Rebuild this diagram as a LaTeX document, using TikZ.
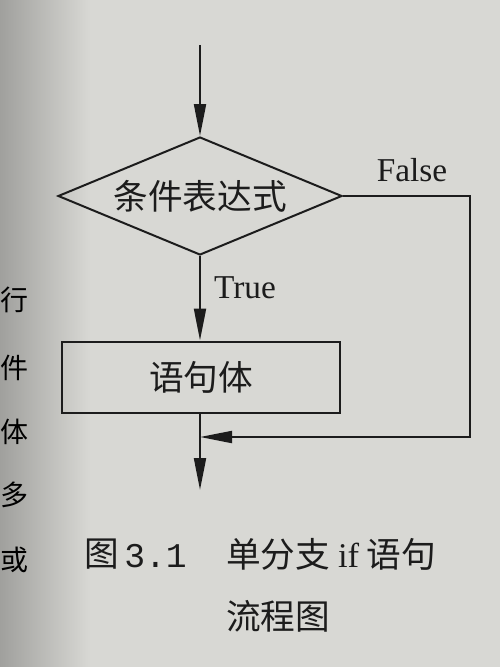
\documentclass[tikz,border=0pt]{standalone}
\usepackage{fontspec}
\setmainfont{Liberation Serif}
\newfontfamily\cjk{Noto Sans CJK SC}
\newfontfamily\monofam{Liberation Mono}
\usetikzlibrary{shapes.geometric,arrows.meta}
\definecolor{paper}{RGB}{216,216,212}
\definecolor{shadowc}{RGB}{160,160,157}
\definecolor{ink}{RGB}{28,28,28}
\begin{document}
\begin{tikzpicture}[x=0.75pt,y=-0.75pt,
  line/.style={draw=ink,line width=1.5pt},
  arr/.style={line,-{Triangle[length=24pt,width=9pt]}},
  cjkbig/.style={text=ink,inner sep=0pt,font=\cjk\fontsize{26}{30}\selectfont},
  latinlbl/.style={text=ink,inner sep=0pt,font=\fontsize{25}{30}\selectfont},
  decision/.style={diamond,line,aspect=2.4,inner sep=0pt,minimum width=213pt,minimum height=88.5pt,cjkbig},
  stmtbox/.style={rectangle,line,inner sep=0pt,minimum width=208.5pt,minimum height=53.25pt,cjkbig},
  captxt/.style={text=ink,inner sep=0pt,anchor=west,font=\cjk\fontsize{26}{30}\selectfont},
  sidetxt/.style={text=black,inner sep=0pt,font=\cjk\fontsize{21}{24}\selectfont}]
% paper background
\useasboundingbox (0,0) rectangle (500,667);
\fill[paper] (0,0) rectangle (500,667);
\shade[left color=shadowc,right color=paper] (0,0) rectangle (90,667);
% page text at the left edge
\node[sidetxt] (s1) at (15,300) {行};
\node[sidetxt] (s2) at (15,368) {件};
\node[sidetxt] (s3) at (15,432) {体};
\node[sidetxt] (s4) at (15,495) {多};
\node[sidetxt] (s5) at (15,560) {或};
% flowchart
\coordinate (start) at (200,45);
\node[decision] (cond) at (200,196) {条件表达式};
\node[stmtbox] (body) at (201,377) {语句体};
\coordinate (fr) at (470,196);
\coordinate (merge) at (200,437);
\coordinate (fb) at (470,437);
\coordinate (end) at (200,490);
\draw[arr] (start) -- (cond.north);
\draw[arr] (cond.south) -- (cond.south |- body.north);
\draw[arr] (cond.east) -- (fr) -- (fb) -- (merge);
\draw[line] (body.south -| merge) -- (merge);
\draw[arr] (merge) -- (end);
\node[latinlbl] (lfalse) at (412,170) {False};
\node[latinlbl] (ltrue) at (245,288) {True};
% caption
\node[captxt] (c1) at (84,554) {图};
\node[text=ink,inner sep=0pt,anchor=west,font=\monofam\fontsize{26}{30}\selectfont] (c2) at (124,556) {3.1};
\node[captxt] (c3) at (226,554) {单分支 {\rmfamily if} 语句};
\node[captxt] (c4) at (226,616) {流程图};
\end{tikzpicture}
\end{document}
